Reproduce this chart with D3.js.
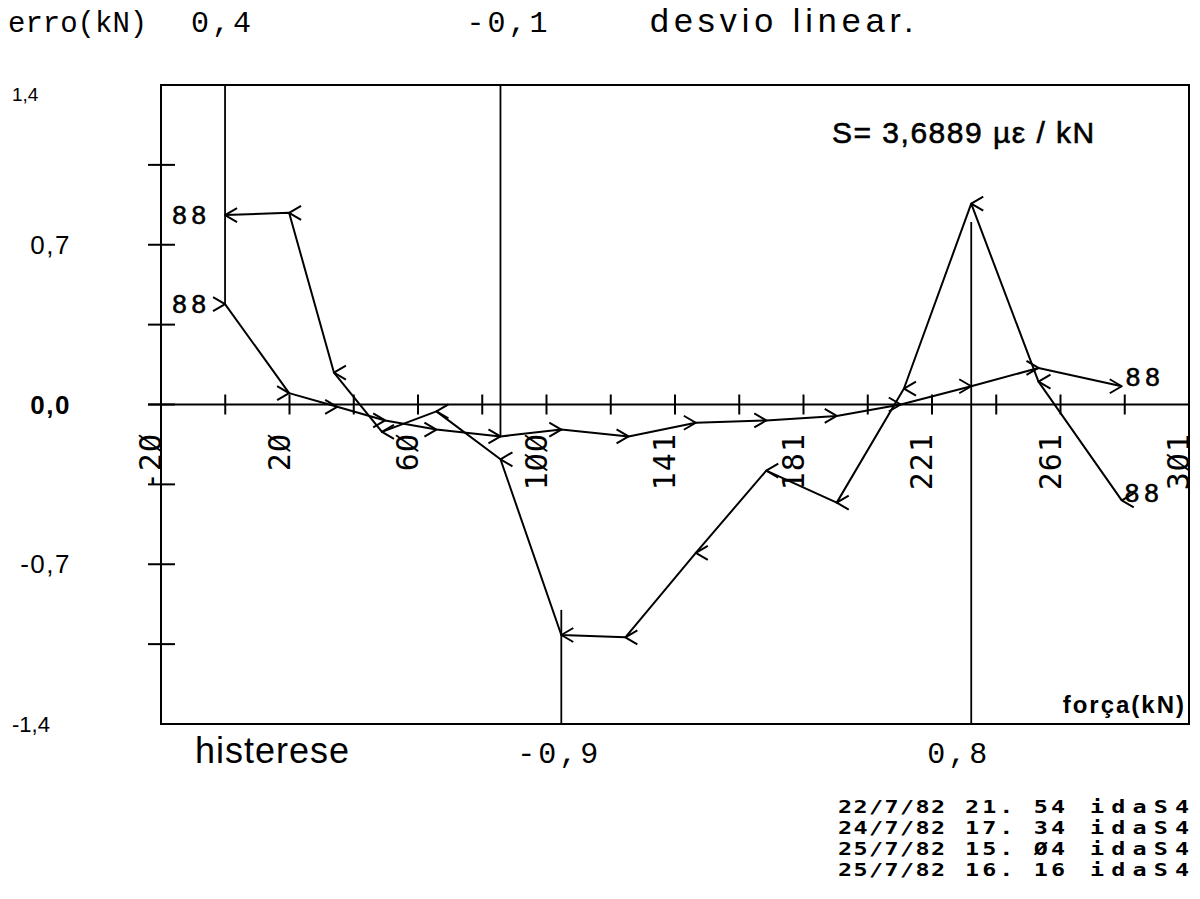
<!DOCTYPE html>
<html>
<head>
<meta charset="utf-8">
<script src="https://cdn.jsdelivr.net/npm/d3@7"></script>
<style>
  html, body { margin: 0; padding: 0; background: #fff; }
  svg { display: block; }
</style>
</head>
<body>
<script>
// Linear-deviation / hysteresis record of a load cell (S4), forward ("ida") and return ("volta") passes.
const forcaIda   = [0, 20, 35, 50, 66, 86, 105, 126, 147, 169, 191, 211, 233, 254, 280];
const erroIda    = [0.44, 0.05, -0.01, -0.07, -0.11, -0.14, -0.11, -0.14, -0.08, -0.07, -0.05, 0.00, 0.08, 0.16, 0.08];
const forcaVolta = [0, 20, 34, 49, 66, 86, 105, 125, 147, 169, 191, 212, 233, 254, 280];
const erroVolta  = [0.83, 0.84, 0.14, -0.12, -0.03, -0.24, -1.01, -1.02, -0.65, -0.29, -0.43, 0.07, 0.88, 0.10, -0.42];

// Axis extents and tick labels
const forcaDomain = [-20, 301];
const erroDomain  = [-1.4, 1.4];
const xTickLabels = ["-2Ø", "2Ø", "6Ø", "1ØØ", "141", "181", "221", "261", "3Ø1"];
const yTickValues = [0.7, 0, -0.7];
const yTickLabels = ["0,7", "0,0", "-0,7"];
const yEndValues  = [1.4, -1.4];
const yEndLabels  = ["1,4", "-1,4"];

// Points flagged for linear deviation (on ida) and for hysteresis (volta - ida)
const desvioIdx = [0, 5];
const histIdx   = [6, 12];

// Run log
const logDatas = ["22/7/82", "24/7/82", "25/7/82", "25/7/82"];
const logHoras = ["21. 54", "17. 34", "15. Ø4", "16. 16"];
const logSerie = ["idaS4", "idaS4", "idaS4", "idaS4"];

const W = 1200, H = 899;
const svg = d3.select("body").append("svg").attr("width", W).attr("height", H)
  .style("background", "#fff");

const x = d3.scaleLinear().domain(forcaDomain).range([161, 1189]);
const y = d3.scaleLinear().domain(erroDomain).range([724, 85]);

const ink = "#000";
const mono = "'Liberation Mono', 'Courier New', monospace";
const sans = "'Liberation Sans', Arial, sans-serif";
const plot = "'DejaVu Sans Mono', monospace";

// truncation to one decimal, decimal comma
const fmt1 = v => {
  const t = Math.trunc(Math.round(v * 100) / 10) / 10;
  return (v < 0 ? "-" : "") + Math.abs(t).toFixed(1).replace(".", ",");
};

// ---- frame ----
const g = svg.append("g").attr("stroke", ink).attr("fill", "none").attr("stroke-width", 2);
g.append("rect")
  .attr("x", x(forcaDomain[0])).attr("y", y(erroDomain[1]))
  .attr("width", x(forcaDomain[1]) - x(forcaDomain[0]))
  .attr("height", y(erroDomain[0]) - y(erroDomain[1]));

// zero line (force axis)
g.append("line")
  .attr("x1", x(forcaDomain[0]) - 13).attr("x2", x(forcaDomain[1]))
  .attr("y1", y(0)).attr("y2", y(0));

// force ticks along the zero line: 16 equal steps
const nStep = 16;
const xTicks = d3.range(nStep + 1).map(i => forcaDomain[0] + i * (forcaDomain[1] - forcaDomain[0]) / nStep);
g.selectAll("line.xt").data(xTicks.slice(1, -1)).join("line")
  .attr("class", "xt")
  .attr("x1", d => x(d)).attr("x2", d => x(d))
  .attr("y1", y(0) - 10).attr("y2", y(0) + 10);

// error ticks on the left edge: 0.35 steps
const yTicks = d3.range(-4, 5).map(i => i * 0.35).filter(v => Math.abs(v) < 1.39);
g.selectAll("line.yt").data(yTicks).join("line")
  .attr("class", "yt")
  .attr("x1", x(forcaDomain[0]) - 13).attr("x2", x(forcaDomain[0]) + 14)
  .attr("y1", d => y(d)).attr("y2", d => y(d));

// rotated force labels on every second tick
svg.append("g").selectAll("text").data(xTickLabels).join("text")
  .attr("transform", (d, i) => `translate(${x(xTicks[i * 2])},433) rotate(-90)`)
  .attr("text-anchor", "end")
  .attr("font-family", plot).attr("font-size", 30)
  .attr("letter-spacing", 1)
  .attr("fill", ink)
  .text(d => d);

// error labels
svg.append("g").selectAll("text").data(yTickLabels).join("text")
  .attr("x", 71).attr("y", (d, i) => y(yTickValues[i]) + 9)
  .attr("text-anchor", "end")
  .attr("font-family", sans).attr("font-size", 26)
  .attr("font-weight", (d, i) => yTickValues[i] === 0 ? "bold" : "normal")
  .attr("letter-spacing", 1.5)
  .attr("fill", ink)
  .text(d => d);
svg.append("g").selectAll("text").data(yEndLabels).join("text")
  .attr("x", 12).attr("y", (d, i) => yEndValues[i] > 0 ? y(yEndValues[i]) + 16 : y(yEndValues[i]) + 8)
  .attr("font-family", sans).attr("font-size", (d, i) => yEndValues[i] > 0 ? 19 : 22)
  .attr("fill", ink)
  .text(d => d);

// ---- series ----
const ida   = forcaIda.map((f, i) => [f, erroIda[i]]);
const volta = forcaVolta.map((f, i) => [f, erroVolta[i]]);
const line = d3.line().x(d => x(d[0])).y(d => y(d[1]));

const series = svg.append("g").attr("fill", "none").attr("stroke", ink)
  .attr("stroke-width", 2).attr("stroke-linejoin", "round");
series.append("path").attr("d", line(ida));
series.append("path").attr("d", line(volta));

// direction chevrons: ">" on the forward pass, "<" on the return pass
const chev = (dir) => d3.line()([[-dir * 12, -7], [0, 0], [-dir * 12, 7]]);
series.selectAll("path.ci").data(ida).join("path").attr("class", "ci")
  .attr("transform", d => `translate(${x(d[0])},${y(d[1])})`)
  .attr("d", chev(1));
series.selectAll("path.cv").data(volta).join("path").attr("class", "cv")
  .attr("transform", d => `translate(${x(d[0])},${y(d[1])})`)
  .attr("d", chev(-1));

// run identifiers at both ends of each pass
const tag = svg.append("g").attr("font-family", sans).attr("font-size", 26)
  .attr("letter-spacing", 5).attr("fill", ink).attr("stroke", ink).attr("stroke-width", 0.6);
tag.append("text").attr("x", x(ida[0][0]) - 14).attr("y", y(ida[0][1]) + 9)
  .attr("text-anchor", "end").text("88");
tag.append("text").attr("x", x(volta[0][0]) - 14).attr("y", y(volta[0][1]) + 9)
  .attr("text-anchor", "end").text("88");
tag.append("text").attr("x", x(ida[ida.length - 1][0]) + 4).attr("y", y(ida[ida.length - 1][1]))
  .text("88");
tag.append("text").attr("x", x(volta[volta.length - 1][0]) + 3).attr("y", y(volta[volta.length - 1][1]) + 2)
  .text("88");

// ---- deviation markers: drop from the top edge ----
const marks = svg.append("g").attr("stroke", ink).attr("stroke-width", 1.8);
const markText = { "font-family": mono, "font-size": 30, "letter-spacing": 3, "fill": ink };
desvioIdx.forEach(i => {
  const px = x(forcaIda[i]);
  marks.append("line").attr("x1", px).attr("x2", px)
    .attr("y1", y(erroDomain[1])).attr("y2", y(erroIda[i]));
  const t = svg.append("text").attr("x", px - 34).attr("y", 32).text(fmt1(erroIda[i]));
  Object.entries(markText).forEach(([k, v]) => t.attr(k, v));
});

// ---- hysteresis markers: rise from the bottom edge ----
histIdx.forEach(i => {
  const px = x(forcaVolta[i]);
  const h = erroVolta[i] - erroIda[i];
  marks.append("line").attr("x1", px).attr("x2", px)
    .attr("y1", y(erroDomain[0])).attr("y2", y(h));
  const t = svg.append("text").attr("x", px - 44).attr("y", 763).text(fmt1(h));
  Object.entries(markText).forEach(([k, v]) => t.attr(k, v));
});

// ---- titles and annotations ----
svg.append("text").attr("x", 8).attr("y", 32)
  .attr("font-family", mono).attr("font-size", 29).attr("fill", ink).text("erro(kN)");
svg.append("text").attr("x", 650).attr("y", 32)
  .attr("font-family", sans).attr("font-size", 34).attr("letter-spacing", 5)
  .attr("fill", ink).text("desvio linear.");
svg.append("text").attr("x", 832).attr("y", 143)
  .attr("font-family", sans).attr("font-size", 30).attr("letter-spacing", 1.5)
  .attr("fill", ink).attr("stroke", ink).attr("stroke-width", 0.6)
  .text("S= 3,6889 µε / kN");
svg.append("text").attr("x", 195).attr("y", 763)
  .attr("font-family", sans).attr("font-size", 36).attr("letter-spacing", 1)
  .attr("fill", ink).text("histerese");
svg.append("text").attr("x", 1186).attr("y", 713).attr("text-anchor", "end")
  .attr("font-family", sans).attr("font-size", 24).attr("font-weight", "bold")
  .attr("letter-spacing", 2).attr("fill", ink).text("força(kN)");

// ---- run log ----
const log = svg.append("g").attr("font-family", plot).attr("font-size", 18)
  .attr("font-weight", "bold").attr("fill", ink);
const sx = 1.3;
const cols = [
  { x: 838,  w: 107, rows: logDatas },
  { x: 965,  w: 100, rows: logHoras },
  { x: 1090, w: 99,  rows: logSerie }
];
cols.forEach(c => {
  c.rows.forEach((s, i) => {
    log.append("text")
      .attr("transform", `translate(${c.x},${813 + i * 21}) scale(${sx},1)`)
      .attr("textLength", c.w / sx).attr("lengthAdjust", "spacing")
      .text(s);
  });
});
</script>
</body>
</html>
